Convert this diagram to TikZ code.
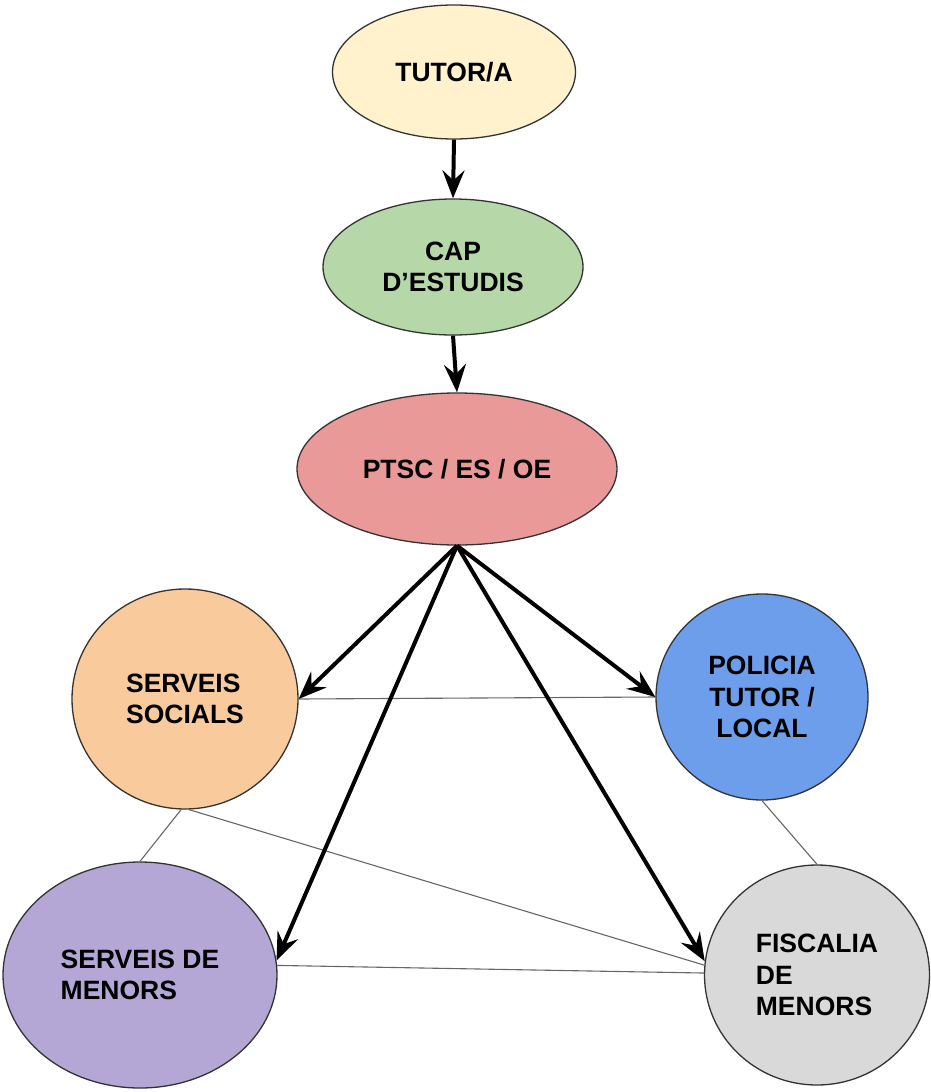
\documentclass[tikz,border=0pt]{standalone}
\usepackage{fontspec}
\setmainfont{Liberation Sans}
\usetikzlibrary{shapes.geometric,arrows.meta}
\definecolor{cTutor}{HTML}{FFF2CC}
\definecolor{cCap}{HTML}{B6D7A8}
\definecolor{cPtsc}{HTML}{EA9999}
\definecolor{cSS}{HTML}{F9CB9C}
\definecolor{cPol}{HTML}{6D9EEB}
\definecolor{cSdm}{HTML}{B4A7D6}
\definecolor{cFisc}{HTML}{D9D9D9}
\definecolor{cEdge}{HTML}{333333}
\definecolor{cThin}{HTML}{666666}
\tikzset{
  blob/.style={ellipse, draw=cEdge, line width=1.3pt, inner sep=0pt,
    font=\fontsize{26.5}{31.5}\selectfont\bfseries, text=black},
  bigarrow/.style={line width=4pt, -{Stealth[length=28pt,width=22pt,inset=10pt]}},
  thinline/.style={draw=cThin, line width=1.1pt},
}
\begin{document}
\begin{tikzpicture}[x=1pt,y=-1pt]
\useasboundingbox (0,0) rectangle (931,1092);
\node[blob, fill=cTutor, minimum width=243pt, minimum height=134pt] (tutor) at (454,72) {TUTOR/A};
\node[blob, fill=cCap, minimum width=260pt, minimum height=136pt, align=center] (cap) at (453,267) {CAP\\D’ESTUDIS};
\node[blob, fill=cPtsc, minimum width=320pt, minimum height=152pt] (ptsc) at (457,469) {PTSC / ES / OE};
\node[blob, fill=cSS, minimum width=226pt, minimum height=220pt, align=left] (ss) at (185,699) {SERVEIS\\SOCIALS};
\node[blob, fill=cPol, minimum width=212pt, minimum height=206pt, align=center] (pol) at (762,697) {POLICIA\\TUTOR /\\LOCAL};
\node[blob, fill=cSdm, minimum width=274pt, minimum height=226pt, align=left] (sdm) at (140,975) {SERVEIS DE\\MENORS};
\node[blob, fill=cFisc, minimum width=225pt, minimum height=220pt, align=left] (fisc) at (817,975) {FISCALIA\\DE\\MENORS};

% thin connections
\draw[thinline] (ss.east) -- (pol.west);
\draw[thinline] (ss.-92) -- (sdm.north);
\draw[thinline] (ss.-88) -- (fisc.175);
\draw[thinline] (sdm.4) -- (fisc.179);
\draw[thinline] (pol.south) -- (fisc.north);

% thick arrows
\draw[bigarrow] (tutor.south) -- (cap.north);
\draw[bigarrow] (cap.south) -- (ptsc.north);
\draw[bigarrow] (ptsc.south) -- (ss.east);
\draw[bigarrow] (ptsc.south) -- (pol.west);
\draw[bigarrow] (ptsc.south) -- (sdm.6);
\draw[bigarrow] (ptsc.south) -- (fisc.173);
\end{tikzpicture}
\end{document}
